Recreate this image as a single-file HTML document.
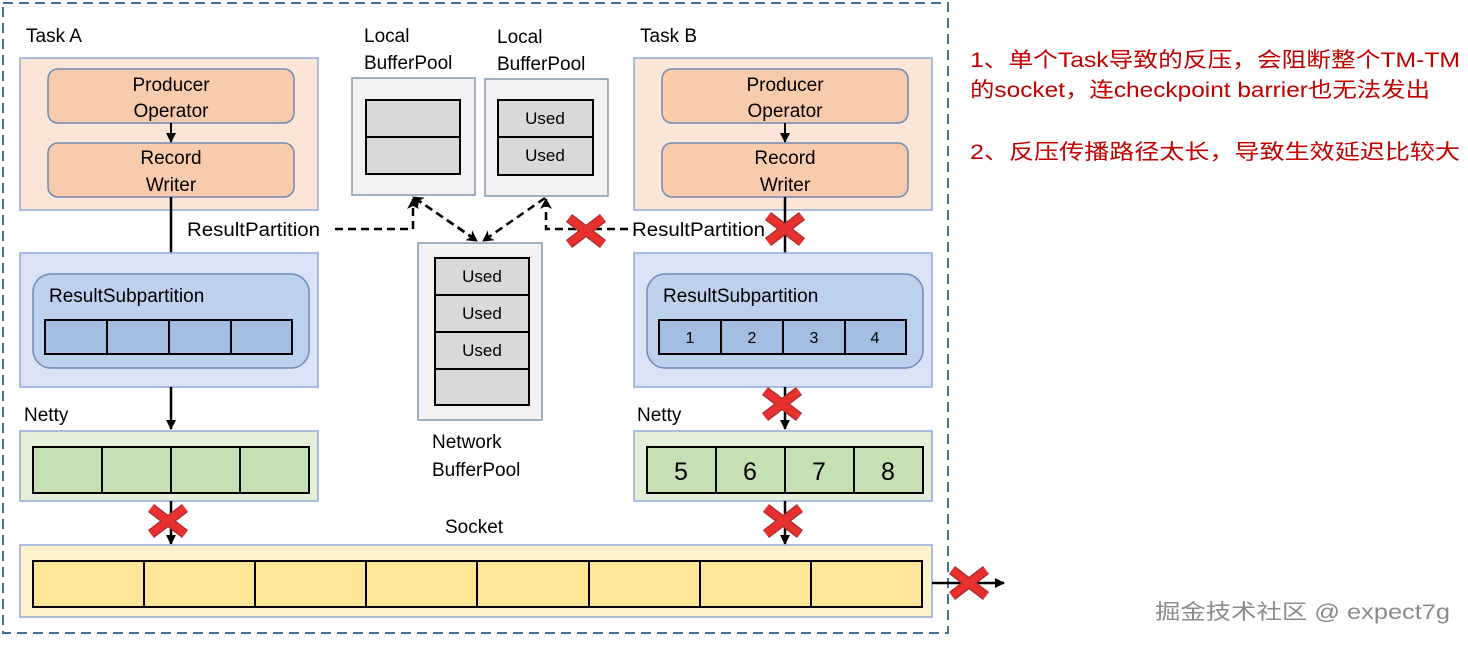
<!DOCTYPE html>
<html><head><meta charset="utf-8"><style>
html,body{margin:0;padding:0;background:#fff;}
svg{display:block;font-family:"Liberation Sans","Noto Sans CJK SC",sans-serif;}
</style></head><body>
<svg width="1468" height="647" viewBox="0 0 1468 647" xmlns="http://www.w3.org/2000/svg">
<defs>
<marker id="ah" markerWidth="10" markerHeight="10" refX="9" refY="5" orient="auto" markerUnits="userSpaceOnUse"><path d="M0,0 L10,5 L0,10 Z" fill="#000"/></marker>
<marker id="ah2" markerWidth="12" markerHeight="12" refX="10" refY="6" orient="auto" markerUnits="userSpaceOnUse"><path d="M0,0 L11,6 L0,12 L3,6 Z" fill="#000"/></marker>
<g id="x"><path d="M-17,-13 L17,13 M-17,13 L17,-13" stroke="#b03030" stroke-width="10" stroke-linecap="butt"/><path d="M-17,-13 L17,13 M-17,13 L17,-13" stroke="#e8312f" stroke-width="7"/></g>
</defs>
<rect x="3" y="3" width="945" height="630" fill="none" stroke="#41719c" stroke-width="2" stroke-dasharray="10,6"/>

<g font-size="19" fill="#000">
<text x="26" y="42">Task A</text>
<text x="640" y="42">Task B</text>
<text x="364" y="42">Local</text><text x="364" y="69">BufferPool</text>
<text x="497" y="43">Local</text><text x="497" y="70">BufferPool</text>
<text x="187" y="236" textLength="133" lengthAdjust="spacingAndGlyphs">ResultPartition</text>
<text x="632" y="236" textLength="133" lengthAdjust="spacingAndGlyphs">ResultPartition</text>
<text x="24" y="421">Netty</text>
<text x="637" y="421">Netty</text>
<text x="432" y="448">Network</text><text x="432" y="476">BufferPool</text>
<text x="445" y="533">Socket</text>
</g>

<g>
<rect x="20" y="58" width="298" height="152" fill="#fbe5d6" stroke="#8faadc" stroke-width="1.5"/>
<rect x="48" y="69" width="246" height="54" rx="10" fill="#f8cbad" stroke="#6f8bb5" stroke-width="1.5"/>
<rect x="48" y="143" width="246" height="54" rx="10" fill="#f8cbad" stroke="#6f8bb5" stroke-width="1.5"/>
<g font-size="19" text-anchor="middle"><text x="171" y="91">Producer</text><text x="171" y="117">Operator</text><text x="171" y="164">Record</text><text x="171" y="191">Writer</text></g>
<line x1="171" y1="123" x2="171" y2="142" stroke="#000" stroke-width="2" marker-end="url(#ah)"/>
<line x1="171" y1="197" x2="171" y2="273" stroke="#000" stroke-width="2.5" marker-end="url(#ah)"/>
<rect x="20" y="253" width="298" height="134" fill="#dae3f3" stroke="#8faadc" stroke-width="1.5"/>
<rect x="33" y="274" width="276" height="94" rx="18" fill="#bdd0ec" stroke="#6f8bb5" stroke-width="1.5"/>
<text x="49" y="302" font-size="19">ResultSubpartition</text>
<rect x="45" y="320" width="247" height="34" fill="#a3bde3" stroke="#000" stroke-width="2"/>
<path d="M107,320V354M169,320V354M231,320V354" stroke="#000" stroke-width="2"/>
<line x1="171" y1="387" x2="171" y2="429" stroke="#000" stroke-width="2.5" marker-end="url(#ah)"/>
<rect x="20" y="431" width="298" height="70" fill="#e2f0d9" stroke="#8faadc" stroke-width="1.5"/>
<rect x="33" y="447" width="276" height="46" fill="#c5e0b4" stroke="#000" stroke-width="2"/>
<path d="M102,447V493M171,447V493M240,447V493" stroke="#000" stroke-width="2"/>
<line x1="171" y1="501" x2="171" y2="544" stroke="#000" stroke-width="2.5" marker-end="url(#ah)"/>
<use href="#x" x="168" y="521"/>
</g>
<g transform="translate(614,0)">
<rect x="20" y="58" width="298" height="152" fill="#fbe5d6" stroke="#8faadc" stroke-width="1.5"/>
<rect x="48" y="69" width="246" height="54" rx="10" fill="#f8cbad" stroke="#6f8bb5" stroke-width="1.5"/>
<rect x="48" y="143" width="246" height="54" rx="10" fill="#f8cbad" stroke="#6f8bb5" stroke-width="1.5"/>
<g font-size="19" text-anchor="middle"><text x="171" y="91">Producer</text><text x="171" y="117">Operator</text><text x="171" y="164">Record</text><text x="171" y="191">Writer</text></g>
<line x1="171" y1="123" x2="171" y2="142" stroke="#000" stroke-width="2" marker-end="url(#ah)"/>
<line x1="171" y1="197" x2="171" y2="273" stroke="#000" stroke-width="2.5" marker-end="url(#ah)"/>
<rect x="20" y="253" width="298" height="134" fill="#dae3f3" stroke="#8faadc" stroke-width="1.5"/>
<rect x="33" y="274" width="276" height="94" rx="18" fill="#bdd0ec" stroke="#6f8bb5" stroke-width="1.5"/>
<text x="49" y="302" font-size="19">ResultSubpartition</text>
<rect x="45" y="320" width="247" height="34" fill="#a3bde3" stroke="#000" stroke-width="2"/>
<path d="M107,320V354M169,320V354M231,320V354" stroke="#000" stroke-width="2"/>
<g font-size="16" text-anchor="middle"><text x="76" y="343">1</text><text x="138" y="343">2</text><text x="200" y="343">3</text><text x="261" y="343">4</text></g>
<line x1="171" y1="387" x2="171" y2="429" stroke="#000" stroke-width="2.5" marker-end="url(#ah)"/>
<rect x="20" y="431" width="298" height="70" fill="#e2f0d9" stroke="#8faadc" stroke-width="1.5"/>
<rect x="33" y="447" width="276" height="46" fill="#c5e0b4" stroke="#000" stroke-width="2"/>
<path d="M102,447V493M171,447V493M240,447V493" stroke="#000" stroke-width="2"/>
<g font-size="25" text-anchor="middle"><text x="67" y="480">5</text><text x="136" y="480">6</text><text x="205" y="480">7</text><text x="274" y="480">8</text></g>
<line x1="171" y1="501" x2="171" y2="544" stroke="#000" stroke-width="2.5" marker-end="url(#ah)"/>
<use href="#x" x="169" y="521"/>
<use href="#x" x="168" y="404"/>
<use href="#x" x="171" y="229"/>
</g>

<rect x="20" y="545" width="912" height="72" fill="#fff2cc" stroke="#8faadc" stroke-width="1.5"/>
<rect x="33" y="561" width="889" height="46" fill="#ffe699" stroke="#000" stroke-width="2"/>
<path d="M144,561V607M255,561V607M366,561V607M477,561V607M589,561V607M700,561V607M811,561V607" stroke="#000" stroke-width="2"/>
<line x1="932" y1="583" x2="1004" y2="583" stroke="#000" stroke-width="2.5" marker-end="url(#ah)"/>
<use href="#x" x="969" y="583"/>

<rect x="352" y="78" width="123" height="117" fill="#f2f2f2" stroke="#8497b0" stroke-width="1.5"/>
<rect x="366" y="100" width="94" height="74" fill="#d9d9d9" stroke="#000" stroke-width="2"/>
<line x1="366" y1="137" x2="460" y2="137" stroke="#000" stroke-width="2"/>
<rect x="485" y="79" width="123" height="117" fill="#f2f2f2" stroke="#8497b0" stroke-width="1.5"/>
<rect x="498" y="100" width="95" height="75" fill="#d9d9d9" stroke="#000" stroke-width="2"/>
<line x1="498" y1="137" x2="593" y2="137" stroke="#000" stroke-width="2"/>
<g font-size="17" text-anchor="middle"><text x="545" y="124">Used</text><text x="545" y="161">Used</text></g>
<rect x="418" y="243" width="124" height="177" fill="#f2f2f2" stroke="#8497b0" stroke-width="1.5"/>
<rect x="435" y="258" width="94" height="147" fill="#d9d9d9" stroke="#000" stroke-width="2"/>
<path d="M435,295H529M435,332H529M435,369H529" stroke="#000" stroke-width="2"/>
<g font-size="17" text-anchor="middle"><text x="482" y="282">Used</text><text x="482" y="319">Used</text><text x="482" y="356">Used</text></g>

<g stroke="#000" stroke-width="2.5" stroke-dasharray="8,5" fill="none">
<path d="M335,229H413V199" marker-end="url(#ah2)"/>
<path d="M475,239L413,197" marker-end="url(#ah2)"/>
<path d="M415,198L477,241" marker-end="url(#ah2)"/>
<path d="M545,198L483,241" marker-end="url(#ah2)"/>
<path d="M628,229H546V199" marker-end="url(#ah2)"/>
</g>
<use href="#x" x="586" y="231"/>

<g font-size="21" fill="#c00000">
<text x="970" y="67" textLength="490" lengthAdjust="spacingAndGlyphs">1、单个Task导致的反压，会阻断整个TM-TM</text>
<text x="970" y="97" textLength="460" lengthAdjust="spacingAndGlyphs">的socket，连checkpoint barrier也无法发出</text>
<text x="970" y="159" textLength="490" lengthAdjust="spacingAndGlyphs">2、反压传播路径太长，导致生效延迟比较大</text>
</g>
<text x="1155" y="619" font-size="21" fill="#8a8a8a" textLength="295" lengthAdjust="spacingAndGlyphs">掘金技术社区 @ expect7g</text>
</svg>
</body></html>
